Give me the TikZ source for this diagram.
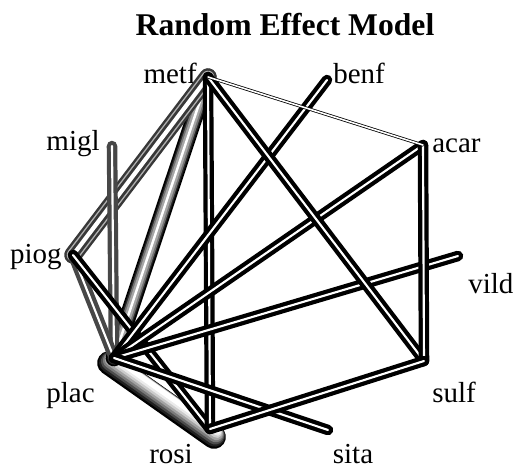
\documentclass[tikz,border=0pt]{standalone}
\usepackage{fontspec}
\setmainfont{Liberation Serif}
\begin{document}
\begin{tikzpicture}[x=0.02cm,y=-0.02cm,
    lbl/.style={font=\fontsize{16.5}{19}\selectfont, inner sep=0pt},
    link/.style={draw=black, line width=2.4pt, double=white, double distance=1.2pt, line cap=round},
    graylink/.style={link, draw=black!72},
    thinlink/.style={draw=black, line width=0.45pt, double=white, double distance=0.9pt, line cap=round},
    layer/.style={line cap=round}]
    \useasboundingbox (0,0) rectangle (521,470);
    \node[font=\fontsize{18}{21}\selectfont\bfseries, anchor=base] (title) at (285,35) {Random Effect Model};
    % treatments
    \coordinate (metf) at (208,77);
    \coordinate (benf) at (327,80);
    \coordinate (acar) at (423,145);
    \coordinate (vild) at (458,256);
    \coordinate (sulf) at (424,361);
    \coordinate (sita) at (328,430);
    \coordinate (rosi) at (210,429);
    \coordinate (plac) at (114,358);
    \coordinate (piog) at (73,255);
    \coordinate (migl) at (112,146);
    \node[lbl, anchor=base east] (metfL) at (197,83) {metf};
    \node[lbl, anchor=base west] (benfL) at (333,83) {benf};
    \node[lbl, anchor=base west] (acarL) at (432,152) {acar};
    \node[lbl, anchor=base west] (vildL) at (468,293) {vild};
    \node[lbl, anchor=base west] (sulfL) at (432,402) {sulf};
    \node[lbl, anchor=base] (sitaL) at (353,463) {sita};
    \node[lbl, anchor=base] (rosiL) at (171,463) {rosi};
    \node[lbl, anchor=base east] (placL) at (95,402) {plac};
    \node[lbl, anchor=base east] (piogL) at (62,263) {piog};
    \node[lbl, anchor=base east] (miglL) at (100,150) {migl};
    % plac -- rosi tube
    \foreach \w/\c in {13.5/black, 12/black!88, 10.5/black!70, 9/black!52, 7.5/black!36, 6/black!20, 4.5/black!8, 3/white}{
        \pgfmathsetmacro{\s}{(13.5-\w)*0.7}
        \draw[layer, line width=\w pt, \c]
            ([shift={({-5+0.57*\s},{5-0.82*\s})}]plac) -- ([shift={({4+0.57*\s},{8-0.82*\s})}]rosi);
    }
    % metf -- plac band
    \foreach \w/\c in {9.5/black, 7.5/black!85, 6/black!55, 4/black!35, 1.4/white}
        \draw[layer, line width=\w pt, \c] (metf) -- (plac);
    % metf -- piog band
    \foreach \w/\c in {10/black!78, 7.2/black!30, 5.6/black!78, 2.4/white}
        \draw[layer, line width=\w pt, \c] (metf) -- (piog);
    \draw[graylink] (migl) -- (plac);
    \draw[graylink] (piog) -- (plac);
    \draw[link] (piog) -- (rosi);
    \draw[link] (metf) -- (rosi);
    \draw[link] (benf) -- (plac);
    \draw[link] (acar) -- (plac);
    \draw[link] (vild) -- (plac);
    \draw[link] (sita) -- (plac);
    \draw[link] (metf) -- (sulf);
    \draw[link] (acar) -- (sulf);
    \draw[link] (rosi) -- (sulf);
    \draw[thinlink] (metf) -- (acar);
\end{tikzpicture}
\end{document}
